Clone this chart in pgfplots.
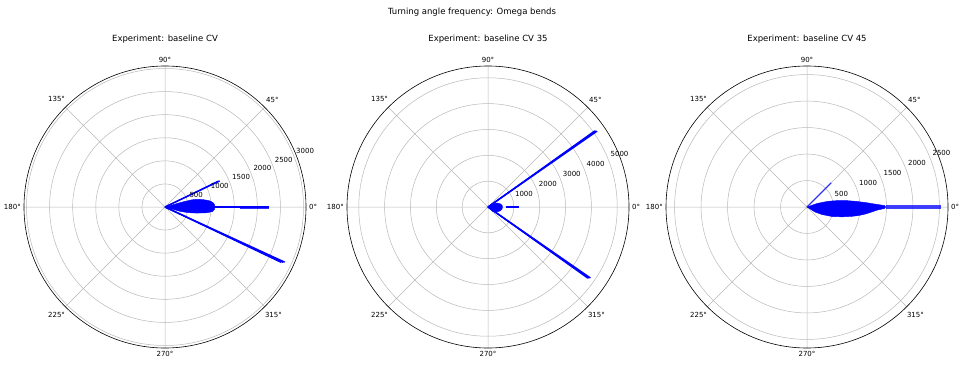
\documentclass[border=0pt]{standalone}
\usepackage{fontspec}
\setmainfont{DejaVu Sans}
\usepackage{pgfplots}
\pgfplotsset{compat=1.18}
\usepgfplotslibrary{polar}
\tikzset{rlab/.style={anchor=south west, inner sep=0.5pt, xshift=2.5pt, font=\fontsize{7}{8}\selectfont}}
\pgfplotsset{
  mypolar/.style={
    anchor=center, width=282pt, height=282pt, scale only axis,
    ymin=0,
    xtick={0,45,...,315},
    xticklabel={\pgfmathprintnumber[assume math mode=true]{\tick}°},
    xticklabel style={font=\fontsize{7}{8}\selectfont, inner sep=3pt},
    yticklabels={},
    grid=major, major grid style={line width=0.5pt, color=black!28},
    separate axis lines,
    x axis line style={line width=0.6pt, black},
    y axis line style={draw=none},
    major tick length=0pt,
    clip=false,
  },
  ray/.style={blue, line width=1.3pt, no marks},
}
\begin{document}
\begin{tikzpicture}
\path[use as bounding box] (0,0) rectangle (960pt,365pt);
\node[font=\fontsize{8.5}{10}\selectfont] at (472pt,353pt) {Turning angle frequency: Omega bends};
\node[font=\fontsize{8.5}{10}\selectfont] at (165pt,325.7pt) {Experiment: baseline CV};
\node[font=\fontsize{8.5}{10}\selectfont] at (488pt,325.7pt) {Experiment: baseline CV 35};
\node[font=\fontsize{8.5}{10}\selectfont] at (807pt,325.7pt) {Experiment: baseline CV 45};

% ---------- Panel 1 ----------
\begin{polaraxis}[mypolar, at={(165pt,158pt)}, ymax=3054, ytick={500,1000,...,3000}]
\addplot[fill=blue, draw=blue, line width=0.4pt] coordinates {
(0,0) (16,400) (15.1,580) (14.5,640) (13.7,710) (12.5,760) (11.2,835) (10,880)
(8.4,959) (7,1000) (5.4,1039) (4,1060) (2.3,1078) (1,1070) (0,1088) (-1,1075)
(-2.3,1078) (-4,1050) (-5.4,1039) (-6.3,990) (-7.1,956) (-8.3,880) (-9.5,787)
(-10.8,700) (-12.1,617) (-14,489) (-16,350) (0,0)};
\addplot[ray, line width=1.1pt] coordinates {(0,0) (0,2250)};
\addplot[blue, opacity=0.8, line width=3pt, no marks] coordinates {(0,1616) (0,2250)};
\addplot[ray] coordinates {(0,0) (25.4,1314)};
\addplot[ray] coordinates {(0,0) (25.9,1290)};
\addplot[ray] coordinates {(0,0) (-24.7,2857)};
\addplot[ray] coordinates {(0,0) (-25.1,2830)};
\addplot[ray] coordinates {(0,0) (-25.5,2790)};
\foreach \r in {500,1000,...,3000} {
  \edef\tmp{\noexpand\node[rlab] at (axis cs:22.5,\r) {\r};}\tmp
}
\end{polaraxis}

% ---------- Panel 2 ----------
\begin{polaraxis}[mypolar, at={(488pt,158pt)}, ymax=5455, ytick={1000,2000,...,5000}]
\addplot[fill=blue, draw=blue, line width=0.4pt] coordinates {
(0,0) (33.4,232) (24,382) (15.4,483) (7.3,547) (0,562) (-8.1,548) (-18.4,491)
(-28.1,395) (-42,261) (0,0)};
\addplot[ray, line width=1.1pt] coordinates {(0,680) (0,1200)};
\addplot[ray] coordinates {(0,0) (34.8,5145)};
\addplot[ray] coordinates {(0,0) (35.2,5110)};
\addplot[ray] coordinates {(0,0) (35.5,5075)};
\addplot[ray] coordinates {(0,0) (-34.7,4820)};
\addplot[ray] coordinates {(0,0) (-35.1,4790)};
\addplot[ray] coordinates {(0,0) (-35.5,4745)};
\foreach \r in {1000,2000,...,5000} {
  \edef\tmp{\noexpand\node[rlab] at (axis cs:22.5,\r) {\r};}\tmp
}
\end{polaraxis}

% ---------- Panel 3 ----------
\begin{polaraxis}[mypolar, at={(807pt,158pt)}, ymax=2662, ytick={500,1000,...,2500}]
\addplot[fill=blue, draw=blue, line width=0.4pt] coordinates {
(0,0) (19.3,201) (15.4,394) (13.5,490) (11.9,583) (10.2,680) (8.95,770) (7.5,860)
(6.3,956) (5.2,1030) (4.4,1106) (3.1,1218) (2.05,1332) (1.1,1464) (0,1483)
(-1.1,1464) (-2.45,1332) (-4.5,1220) (-6,1150) (-7.6,1074) (-9.5,980) (-11.6,873)
(-13.5,780) (-15.6,691) (-20.8,508) (-26.6,319) (-32,179) (0,0)};
\addplot[blue, opacity=0.75, line width=3.2pt, no marks] coordinates {(0,1483) (0,2532)};
\addplot[blue, opacity=0.75, line width=1.3pt, no marks] coordinates {(0,0) (45,645)};
\foreach \r in {500,1000,...,2500} {
  \edef\tmp{\noexpand\node[rlab] at (axis cs:22.5,\r) {\r};}\tmp
}
\end{polaraxis}
\end{tikzpicture}
\end{document}
